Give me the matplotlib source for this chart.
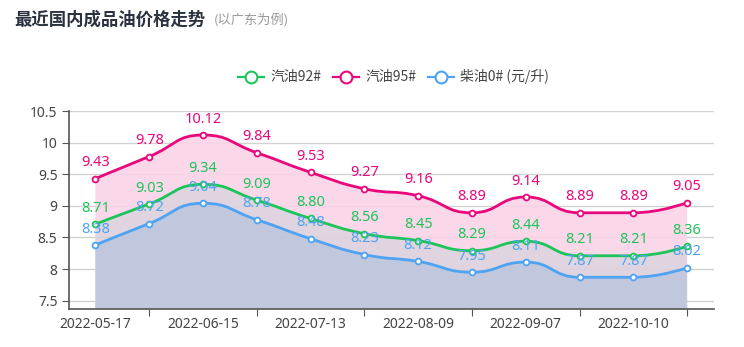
import numpy as np
import matplotlib
matplotlib.use("Agg")
import matplotlib.pyplot as plt
from matplotlib.path import Path
from matplotlib.patches import PathPatch

plt.rcParams['font.family'] = ['Noto Sans CJK SC', 'DejaVu Sans']

dates = ["2022-05-17", "2022-05-31", "2022-06-15", "2022-06-28", "2022-07-13", "2022-07-26",
         "2022-08-09", "2022-08-23", "2022-09-07", "2022-09-21", "2022-10-10", "2022-10-24"]
gas95 = [9.43, 9.78, 10.12, 9.84, 9.53, 9.27, 9.16, 8.89, 9.14, 8.89, 8.89, 9.05]
gas92 = [8.71, 9.03, 9.34, 9.09, 8.80, 8.56, 8.45, 8.29, 8.44, 8.21, 8.21, 8.36]
diesel = [8.38, 8.72, 9.04, 8.78, 8.48, 8.23, 8.12, 7.95, 8.11, 7.87, 7.87, 8.02]

names = ["汽油92#", "汽油95#", "柴油0# (元/升)"]
line_colors = ["#1cc45a", "#e8087c", "#4ea3f2"]

W, H = 744, 347
fig = plt.figure(figsize=(W / 100, H / 100), dpi=100)
ax_l, ax_r, ax_t, ax_b = 68.5, 714, 111, 309
ax = fig.add_axes([ax_l / W, (H - ax_b) / H, (ax_r - ax_l) / W, (ax_b - ax_t) / H])
ymin, ymax = 7.368, 10.5
ax.set_xlim(-0.5, len(dates) - 0.5)
ax.set_ylim(ymin, ymax)

# pixel scale factors so the smoothing runs in screen space
sx = (ax_r - ax_l) / len(dates)
sy = (ax_b - ax_t) / (ymax - ymin)


def smooth_path(xs, ys, smooth=0.5):
    """Bezier segments through the points, with control points kept
    inside each segment's bounding box (no overshoot)."""
    P = [(x * sx, y * sy) for x, y in zip(xs, ys)]
    n = len(P)
    verts = [P[0]]
    codes = [Path.MOVETO]
    cp0 = P[0]
    for i in range(1, n):
        x, y = P[i]
        px, py = P[i - 1]
        if i == n - 1:
            cp1 = (x, y)
            ncp0 = (x, y)
        else:
            nx, ny = P[i + 1]
            vx, vy = nx - px, ny - py
            l0 = np.hypot(x - px, y - py)
            l1 = np.hypot(nx - x, ny - y)
            r = l1 / (l0 + l1)
            ncx = x + vx * smooth * r
            ncy = y + vy * smooth * r
            ncx = min(ncx, max(nx, x)); ncx = max(ncx, min(nx, x))
            ncy = min(ncy, max(ny, y)); ncy = max(ncy, min(ny, y))
            vx, vy = ncx - x, ncy - y
            c1x = x - vx * l0 / l1
            c1y = y - vy * l0 / l1
            c1x = min(c1x, max(px, x)); c1x = max(c1x, min(px, x))
            c1y = min(c1y, max(py, y)); c1y = max(c1y, min(py, y))
            vx, vy = x - c1x, y - c1y
            ncx = x + vx * l1 / l0
            ncy = y + vy * l1 / l0
            cp1 = (c1x, c1y)
            ncp0 = (ncx, ncy)
        verts += [cp0, cp1, (x, y)]
        codes += [Path.CURVE4] * 3
        cp0 = ncp0
    verts = [(vx_ / sx, vy_ / sy) for vx_, vy_ in verts]
    return verts, codes


# grid
for v in np.arange(7.5, 10.51, 0.5):
    ax.axhline(v, color="#d2d2d2", lw=1, zorder=1)

xs = np.arange(len(dates))
series = [gas95, gas92, diesel]
fills = ["#fbd3e8", "#c9d2d6", "#aebfdc"]
fill_alpha = [0.9, 0.55, 0.6]
line_map = [line_colors[1], line_colors[0], line_colors[2]]

for vals, fc, fa in zip(series, fills, fill_alpha):
    verts, codes = smooth_path(xs, vals)
    area_v = verts + [(xs[-1], ymin), (xs[0], ymin), verts[0]]
    area_c = codes + [Path.LINETO, Path.LINETO, Path.CLOSEPOLY]
    ax.add_patch(PathPatch(Path(area_v, area_c), facecolor=fc, edgecolor="none",
                           alpha=fa, zorder=2))

for vals, lc in zip(series, line_map):
    verts, codes = smooth_path(xs, vals)
    ax.add_patch(PathPatch(Path(verts, codes), facecolor="none", edgecolor=lc,
                           lw=2, zorder=4, capstyle="round", joinstyle="round"))
    ax.plot(xs, vals, ls="none", marker="o", ms=4.2, mfc="white", mec=lc, mew=1.3, zorder=5)
    for x, v in zip(xs, vals):
        ax.annotate(f"{v:.2f}", (x, v), xytext=(0, 6), textcoords="offset points",
                    ha="center", va="bottom", color=lc, fontsize=10.5, zorder=6,
                    family=['Noto Sans', 'DejaVu Sans'])

# axes styling
for s in ["top", "right"]:
    ax.spines[s].set_visible(False)
ax.spines["left"].set_color("#555555")
ax.spines["bottom"].set_color("#555555")
ax.spines["left"].set_linewidth(1.2)
ax.spines["bottom"].set_linewidth(1.2)

ax.set_yticks(np.arange(7.5, 10.51, 0.5))
ax.set_yticklabels(["7.5", "8", "8.5", "9", "9.5", "10", "10.5"])
ax.tick_params(axis="y", length=5, color="#555555", labelsize=10, labelcolor="#444444", pad=3)

ax.set_xticks(xs[1::2])
ax.set_xticklabels([])
ax.tick_params(axis="x", which="major", length=5, color="#555555")
ax.set_xticks(xs[0::2], minor=True)
ax.set_xticklabels([dates[i] for i in xs[0::2]], minor=True)
ax.tick_params(axis="x", which="minor", length=0, labelsize=10, labelcolor="#444444", pad=6)

for lbl in ax.get_xticklabels(minor=True) + ax.get_yticklabels():
    lbl.set_family(['Noto Sans', 'DejaVu Sans'])

# title
fig.text(14 / W, 1 - 20 / H, "最近国内成品油价格走势", fontsize=12.5, fontweight="bold",
         color="#2b3340", va="center", ha="left")
fig.text(214 / W, 1 - 20 / H, "(以广东为例)", fontsize=9.5, color="#9a9a9a",
         va="center", ha="left")

# legend
leg_items = [(238, names[0], line_colors[0]), (333, names[1], line_colors[1]),
             (428, names[2], line_colors[2])]
for x0, name, c in leg_items:
    yy = 1 - 77 / H
    fig.add_artist(plt.Line2D([x0 / W, (x0 + 26) / W], [yy, yy], color=c, lw=1.6,
                              transform=fig.transFigure))
    fig.add_artist(plt.Line2D([(x0 + 13) / W], [yy], marker="o", ms=8.5, mfc="white",
                              mec=c, mew=1.5, transform=fig.transFigure))
    fig.text((x0 + 32) / W, yy, name, fontsize=10, color="#444444", va="center", ha="left")

fig.savefig("out.png", dpi=100)
